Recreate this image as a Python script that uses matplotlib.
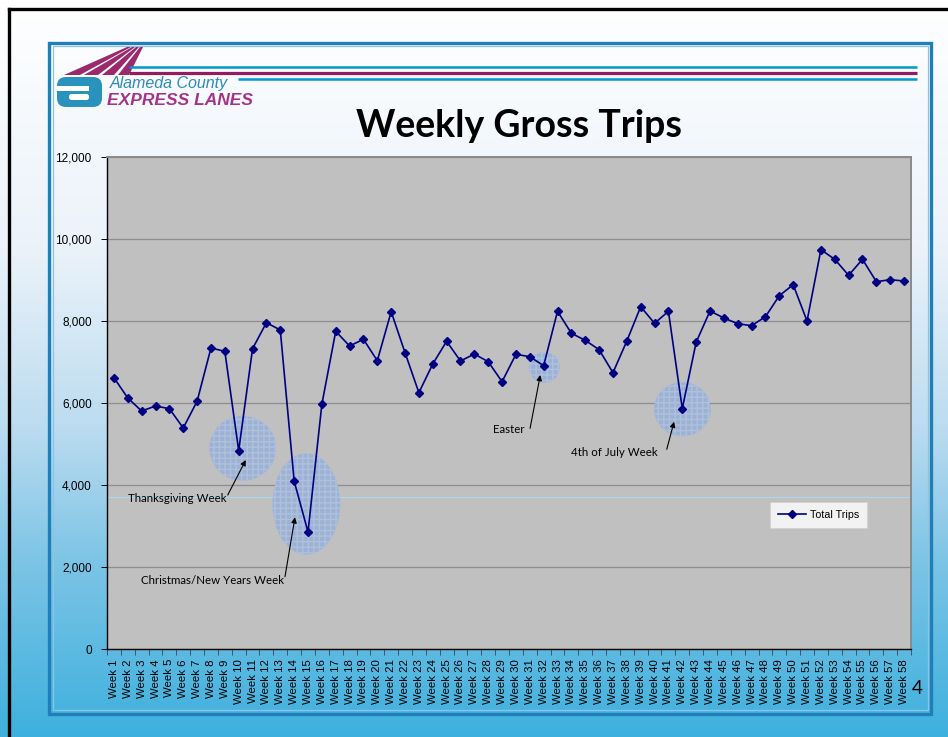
import numpy as np
import matplotlib.pyplot as plt
from matplotlib.patches import Ellipse, Polygon, FancyBboxPatch, Rectangle
from matplotlib.ticker import FuncFormatter, FixedLocator

# 数据：每周总出行量
weeks = ["Week %d" % i for i in range(1, 59)]
trips = [6624, 6129, 5812, 5934, 5869, 5398, 6049, 7349, 7268, 4844,
         7332, 7966, 7788, 4105, 2861, 5976, 7756, 7398, 7561, 7039,
         8234, 7234, 6259, 6959, 7512, 7032, 7202, 7015, 6527, 7195,
         7137, 6917, 8244, 7707, 7537, 7307, 6746, 7520, 8356, 7951,
         8244, 5869, 7488, 8251, 8081, 7942, 7893, 8112, 8624, 8893,
         8007, 9746, 9512, 9122, 9512, 8966, 9015, 8983]
y_ticks = [0, 2000, 4000, 6000, 8000, 10000, 12000]

# 标注：文字, 文字位置(右端), 箭头起点, 箭头终点, 椭圆中心, 椭圆宽高
notes = [
    ("Thanksgiving Week", (8.14, 3683), (8.21, 3763), (9.51, 4617), (9.29, 4902), (4.81, 1585)),
    ("Christmas/New Years Week", (12.27, 1690), (12.34, 1771), (13.06, 3219), (13.88, 3544), (4.88, 2471)),
    ("Easter", (29.61, 5349), (30.02, 5390), (30.76, 6690), (31.05, 6878), (2.24, 749)),
    ("4th of July Week", (39.23, 4795), (39.88, 4878), (40.41, 5551), (41.01, 5854), (4.09, 1324)),
]

W, H = 948, 737
fig = plt.figure(figsize=(W / 100, H / 100), dpi=100)

# 背景层，像素坐标
bg = fig.add_axes([0, 0, 1, 1])
bg.set_xlim(0, W)
bg.set_ylim(H, 0)
bg.axis('off')

stops_y = [0, 250, 430, 560, 737]
stops_c = [(1.0, 1.0, 1.0), (0.92, 0.95, 0.98), (0.73, 0.86, 0.94), (0.49, 0.77, 0.90), (0.24, 0.69, 0.87)]
yy = np.arange(H)
grad = np.stack([np.interp(yy, stops_y, [c[k] for c in stops_c]) for k in range(3)], axis=1)
bg.imshow(grad[:, None, :], extent=(0, W, H, 0), aspect='auto', zorder=0)

# 黑色外框
bg.plot([9, 9], [9, H], color='black', lw=2.4, zorder=1)
bg.plot([9, W], [9, 9], color='black', lw=2.4, zorder=1)

# 内框
bg.add_patch(Rectangle((49.5, 42.5), 882, 671, fill=False, ec='#1f7fb8', lw=2.4, zorder=1))
bg.add_patch(Rectangle((53, 46), 875, 664, fill=False, ec='#8ec3e3', lw=0.9, zorder=1))

# 标志
for x0, x1, t0, t1 in [(64, 80, 127, 131), (84, 98, 132, 135), (102, 114, 136, 139), (118, 129, 140, 143)]:
    bg.add_patch(Polygon([(x0, 75), (x1, 75), (t1, 47), (t0, 47)], closed=True, color='#9b2a6c', lw=0, zorder=2))
bg.add_patch(FancyBboxPatch((57, 77), 45, 30, boxstyle="round,pad=0,rounding_size=9",
                            fc='#2a93bd', ec='none', zorder=2))
bg.add_patch(Rectangle((56, 86), 33, 4.5, color='white', lw=0, zorder=3))
bg.add_patch(FancyBboxPatch((69, 94), 20, 6, boxstyle="round,pad=0,rounding_size=2.5",
                            fc='white', ec='none', zorder=3))
bg.text(110, 83, "Alameda County", color='#2e8bb8', fontsize=11.5, style='italic',
        family='Liberation Sans', va='center', ha='left', zorder=3)
bg.text(107, 100, "EXPRESS LANES", color='#a3338a', fontsize=12.5, style='italic', weight='bold',
        family='Liberation Sans', va='center', ha='left', zorder=3)
bg.plot([129, 917], [66.7, 66.7], color='#0099cc', lw=1.8, zorder=2, solid_capstyle='butt')
bg.plot([129, 917], [73, 73], color='#951a5e', lw=2.3, zorder=2, solid_capstyle='butt')
bg.plot([238, 917], [79, 79], color='#0099cc', lw=1.8, zorder=2, solid_capstyle='butt')

# 标题与页码
bg.text(519, 126, "Weekly Gross Trips", fontsize=27, weight='bold', family='Lato',
        ha='center', va='center', zorder=3)
bg.text(917, 689, "4", fontsize=13.5, family='Lato', ha='center', va='center', zorder=3)

# 图表区
ax = fig.add_axes([107 / W, 1 - 649.3 / H, 804 / W, 492 / H])
ax.set_facecolor('#c0c0c0')
x = np.arange(len(weeks))
ax.plot(x, trips, color='#000080', lw=1.2, marker='D', markersize=4.2, label='Total Trips', zorder=5)

ax.set_xlim(-0.5, len(weeks) - 0.5)
ax.set_ylim(0, 12000)
ax.set_yticks(y_ticks)
ax.yaxis.set_major_formatter(FuncFormatter(lambda v, p: f"{int(v):,}"))
ax.grid(axis='y', color='#8e8e8e', lw=0.9, zorder=1)
ax.set_axisbelow(True)
ax.axhline(3715, color='#a8dcf4', lw=0.7, zorder=1)

ax.set_xticks(x)
ax.set_xticklabels(weeks, rotation=90, family='Liberation Sans', fontsize=8.2)
ax.xaxis.set_minor_locator(FixedLocator(np.arange(-0.5, len(weeks), 1)))
ax.tick_params(axis='x', which='major', length=0, pad=7)
ax.tick_params(axis='x', which='minor', length=4, width=0.6, color='#444444')
ax.tick_params(axis='y', length=4, width=0.7, pad=7, labelsize=8.5)
for lab in ax.get_yticklabels():
    lab.set_family('Liberation Sans')

ax.spines['left'].set_color('black')
ax.spines['bottom'].set_color('black')
ax.spines['left'].set_linewidth(1.0)
ax.spines['bottom'].set_linewidth(1.0)
ax.spines['top'].set_color('#8a8a8a')
ax.spines['right'].set_color('#8a8a8a')
ax.spines['top'].set_linewidth(1.4)
ax.spines['right'].set_linewidth(1.4)

for label, txt_pos, a_start, a_end, e_c, e_wh in notes:
    ax.add_patch(Ellipse(e_c, e_wh[0], e_wh[1], fc='#9cb2d5', ec='#afc1de', lw=0,
                         hatch='+++', alpha=0.95, zorder=3))
    ax.text(txt_pos[0], txt_pos[1], label, ha='right', va='center', fontsize=8.3,
            family='Lato', zorder=6)
    ax.annotate('', xy=a_end, xytext=a_start,
                arrowprops=dict(arrowstyle='-|>', color='black', lw=0.8,
                                mutation_scale=8, shrinkA=0, shrinkB=0), zorder=6)

leg = ax.legend(loc='upper left', bbox_to_anchor=((770 - 107) / 804, (649.3 - 502) / 492),
                frameon=True, fancybox=False, prop={'family': 'Liberation Sans', 'size': 7.7},
                handlelength=2.6, borderpad=0.75, handletextpad=0.35, borderaxespad=0)
leg.get_frame().set_edgecolor('#d0d0d0')
leg.get_frame().set_linewidth(0.6)

fig.savefig('out.png', dpi=100)
